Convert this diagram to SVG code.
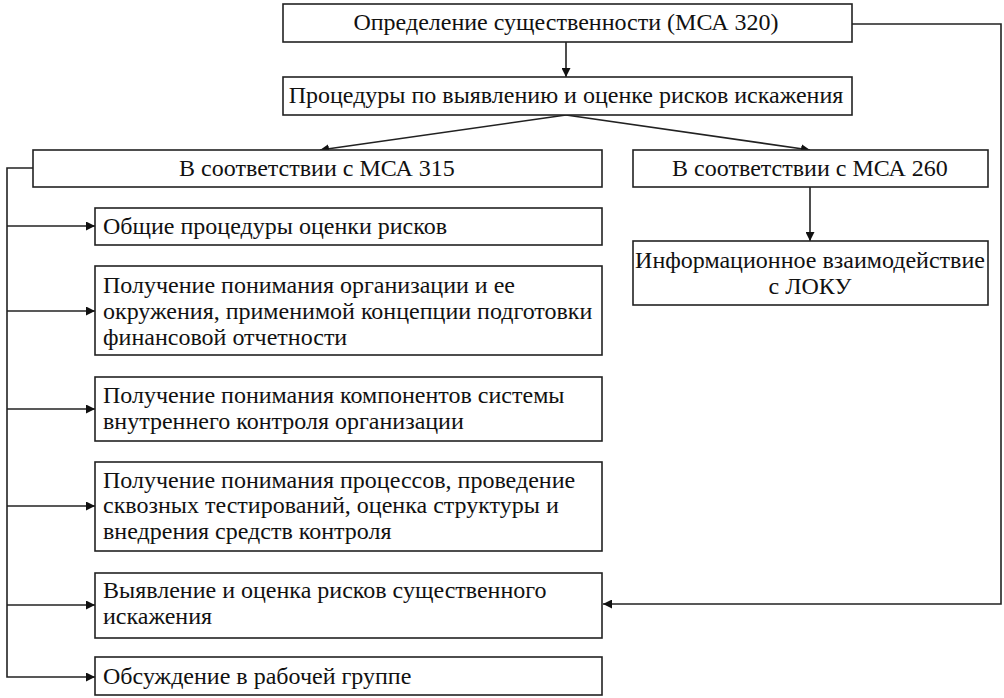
<svg xmlns="http://www.w3.org/2000/svg" width="1004" height="698" viewBox="0 0 1004 698">
<style>
.box{fill:#fff;stroke:#222;stroke-width:1.6}
.ln{fill:none;stroke:#222;stroke-width:1.6}
</style>
<defs>
<marker id="ah" viewBox="0 0 10 10" refX="10" refY="5" markerWidth="9" markerHeight="9" markerUnits="userSpaceOnUse" orient="auto">
<path d="M0,0 L10,5 L0,10 z" fill="#111"/>
</marker>
</defs>
<rect width="1004" height="698" fill="#fff"/>
<g id="connectors">
<line class="ln" x1="566" y1="42" x2="566" y2="77" marker-end="url(#ah)"/>
<line class="ln" x1="566" y1="115" x2="320" y2="150" marker-end="url(#ah)"/>
<line class="ln" x1="566" y1="115" x2="810" y2="150" marker-end="url(#ah)"/>
<line class="ln" x1="810" y1="187" x2="810" y2="241" marker-end="url(#ah)"/>
<polyline class="ln" points="852,24 1001,24 1001,604 603,604" marker-end="url(#ah)"/>
<polyline class="ln" points="33,168 7,168 7,677 95,677" marker-end="url(#ah)"/>
<line class="ln" x1="7" y1="226" x2="95" y2="226" marker-end="url(#ah)"/>
<line class="ln" x1="7" y1="311" x2="95" y2="311" marker-end="url(#ah)"/>
<line class="ln" x1="7" y1="409" x2="95" y2="409" marker-end="url(#ah)"/>
<line class="ln" x1="7" y1="506" x2="95" y2="506" marker-end="url(#ah)"/>
<line class="ln" x1="7" y1="605" x2="95" y2="605" marker-end="url(#ah)"/>
</g>
<g id="n1"><rect class="box" x="283" y="4" width="569" height="38"/><text font-family="Liberation Serif" font-size="24" fill="#111" text-anchor="middle" x="566" y="30">Определение существенности (МСА 320)</text></g>
<g id="n2"><rect class="box" x="283" y="77" width="569" height="38"/><text font-family="Liberation Serif" font-size="24" fill="#111" text-anchor="middle" x="566" y="103">Процедуры по выявлению и оценке рисков искажения</text></g>
<g id="n3"><rect class="box" x="33" y="150" width="569" height="37"/><text font-family="Liberation Serif" font-size="24" fill="#111" text-anchor="middle" x="317" y="176">В соответствии с МСА 315</text></g>
<g id="n4"><rect class="box" x="633" y="150" width="355" height="37"/><text font-family="Liberation Serif" font-size="24" fill="#111" text-anchor="middle" x="810" y="176">В соответствии с МСА 260</text></g>
<g id="n5"><rect class="box" x="633" y="241" width="355" height="64"/><text font-family="Liberation Serif" font-size="24" fill="#111" text-anchor="middle" x="810" y="268">Информационное взаимодействие</text><text font-family="Liberation Serif" font-size="24" fill="#111" text-anchor="middle" x="810" y="294">с ЛОКУ</text></g>
<g id="n6"><rect class="box" x="95" y="208" width="507" height="37"/><text font-family="Liberation Serif" font-size="24" fill="#111" x="103" y="234">Общие процедуры оценки рисков</text></g>
<g id="n7"><rect class="box" x="95" y="266" width="507" height="89"/><text font-family="Liberation Serif" font-size="24" fill="#111" x="103" y="293">Получение понимания организации и ее</text><text font-family="Liberation Serif" font-size="24" fill="#111" x="103" y="319">окружения, применимой концепции подготовки</text><text font-family="Liberation Serif" font-size="24" fill="#111" x="103" y="345">финансовой отчетности</text></g>
<g id="n8"><rect class="box" x="95" y="377" width="507" height="64"/><text font-family="Liberation Serif" font-size="24" fill="#111" x="103" y="403">Получение понимания компонентов системы</text><text font-family="Liberation Serif" font-size="24" fill="#111" x="103" y="429">внутреннего контроля организации</text></g>
<g id="n9"><rect class="box" x="95" y="462" width="507" height="89"/><text font-family="Liberation Serif" font-size="24" fill="#111" x="103" y="488">Получение понимания процессов, проведение</text><text font-family="Liberation Serif" font-size="24" fill="#111" x="103" y="513">сквозных тестирований, оценка структуры и</text><text font-family="Liberation Serif" font-size="24" fill="#111" x="103" y="539">внедрения средств контроля</text></g>
<g id="n10"><rect class="box" x="95" y="573" width="507" height="65"/><text font-family="Liberation Serif" font-size="24" fill="#111" x="103" y="598">Выявление и оценка рисков существенного</text><text font-family="Liberation Serif" font-size="24" fill="#111" x="103" y="624">искажения</text></g>
<g id="n11"><rect class="box" x="95" y="657" width="507" height="38"/><text font-family="Liberation Serif" font-size="24" fill="#111" x="103" y="684">Обсуждение в рабочей группе</text></g>
</svg>
